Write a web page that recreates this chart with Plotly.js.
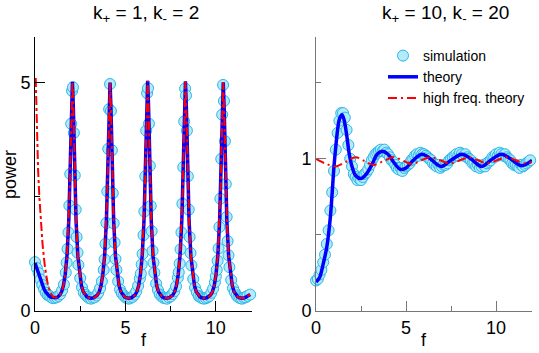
<!DOCTYPE html>
<html>
<head>
<meta charset="utf-8">
<script src="https://cdn.plot.ly/plotly-3.0.1.min.js"></script>
<style>
  html, body { margin: 0; padding: 0; background: #fff; }
  #chart { width: 539px; height: 353px; }
</style>
</head>
<body>
<div id="chart"></div>
<script>
// ---- left panel: k+ = 1, k- = 2 ----
var leftSimF = [0,0.1,0.2,0.3,0.4,0.5,0.6,0.7,0.8,0.9,1.0,1.1,1.2,1.3,1.4,1.5,1.6,1.7,
  1.75,1.8,1.85,1.9,1.95,2.0,2.05,2.1,2.15,2.2,2.25,2.3,2.35,2.4,
  2.5,2.6,2.7,2.8,2.9,3.0,3.1,3.2,3.3,3.4,3.5,3.6,3.7,3.8,
  3.85,3.9,3.95,4.0,4.05,4.1,4.15,4.2,4.25,4.3,4.35,4.4,4.45,4.5,
  4.6,4.7,4.8,4.9,5.0,5.1,5.2,5.3,5.4,5.5,5.6,5.7,5.8,
  5.85,5.9,5.95,6.0,6.05,6.1,6.15,6.2,6.25,6.3,6.35,6.4,6.45,6.5,6.55,6.6,
  6.7,6.8,6.9,7.0,7.1,7.2,7.3,7.4,7.5,7.6,7.7,7.8,7.9,
  7.95,8.0,8.05,8.1,8.15,8.2,8.25,8.3,8.35,8.4,8.45,8.5,8.55,8.6,8.65,
  8.75,8.85,8.95,9.05,9.15,9.25,9.35,9.45,9.55,9.65,9.75,9.85,9.95,
  10.0,10.05,10.1,10.15,10.2,10.25,10.3,10.35,10.4,10.45,10.5,10.55,10.6,10.65,10.7,10.75,
  10.85,10.95,11.05,11.15,11.25,11.35,11.45,11.55,11.65,11.75,11.9];
var leftSimP = [1.07,0.94,0.83,0.69,0.57,0.48,0.4,0.35,0.33,0.3,0.28,0.29,0.3,0.33,0.37,0.45,0.58,0.84,
  1.06,1.36,1.72,2.31,3.0,4.1,4.82,4.9,3.9,2.97,2.22,1.62,1.28,1.01,
  0.72,0.52,0.4,0.35,0.31,0.28,0.27,0.29,0.3,0.34,0.4,0.5,0.65,0.9,
  1.13,1.47,1.93,2.62,3.55,4.42,4.97,4.38,3.52,2.58,1.92,1.5,1.14,0.9,
  0.65,0.47,0.39,0.34,0.3,0.28,0.27,0.29,0.31,0.36,0.43,0.55,0.71,
  0.82,1.02,1.25,1.66,2.18,2.95,3.95,4.77,4.88,4.1,3.18,2.3,1.75,1.32,1.06,0.84,
  0.6,0.46,0.36,0.32,0.29,0.28,0.27,0.3,0.32,0.37,0.43,0.54,0.73,
  0.85,1.04,1.35,1.72,2.35,3.15,4.15,4.87,4.72,3.95,2.95,2.22,1.62,1.27,1.0,
  0.7,0.51,0.41,0.33,0.3,0.28,0.27,0.28,0.3,0.33,0.4,0.49,0.63,
  0.76,0.9,1.1,1.37,1.84,2.46,3.33,4.3,4.95,4.6,3.72,2.78,2.06,1.53,1.22,0.96,
  0.68,0.5,0.41,0.34,0.3,0.28,0.27,0.29,0.3,0.33,0.36];

var leftTheoryF = [0,0.1,0.2,0.3,0.4,0.5,0.6,0.7,0.8,0.9,1.0,
  1.17,1.27,1.37,1.47,1.57,1.67,1.77,1.87,1.92,1.97,2.02,2.07,2.12,2.17,2.22,2.27,2.37,2.47,2.57,2.67,2.77,2.87,2.97,
  3.11,
  3.25,3.35,3.45,3.55,3.65,3.75,3.85,3.95,4.0,4.05,4.1,4.15,4.2,4.25,4.3,4.35,4.45,4.55,4.65,4.75,4.85,4.95,5.05,
  5.19,
  5.33,5.43,5.53,5.63,5.73,5.83,5.93,6.03,6.08,6.13,6.18,6.23,6.28,6.33,6.38,6.43,6.53,6.63,6.73,6.83,6.93,7.03,7.13,
  7.27,
  7.42,7.52,7.62,7.72,7.82,7.92,8.02,8.12,8.17,8.22,8.27,8.32,8.37,8.42,8.47,8.52,8.62,8.72,8.82,8.92,9.02,9.12,9.22,
  9.36,
  9.51,9.61,9.71,9.81,9.91,10.01,10.11,10.21,10.26,10.31,10.36,10.41,10.46,10.51,10.56,10.61,10.71,10.81,10.91,11.01,11.11,11.21,11.31,
  11.45,11.6,11.75,11.9];
var leftTheoryP = [1.05,0.93,0.8,0.68,0.57,0.48,0.41,0.36,0.32,0.3,0.29,
  0.29,0.31,0.35,0.42,0.55,0.8,1.22,2.0,2.65,3.52,4.47,5.02,4.46,3.5,2.62,1.98,1.2,0.79,0.55,0.42,0.35,0.31,0.29,
  0.28,
  0.29,0.31,0.35,0.42,0.55,0.8,1.21,1.99,2.64,3.5,4.45,5.0,4.45,3.5,2.63,1.98,1.2,0.79,0.55,0.42,0.35,0.31,0.29,
  0.28,
  0.29,0.31,0.35,0.42,0.55,0.8,1.22,2.0,2.66,3.53,4.48,5.04,4.47,3.51,2.62,1.97,1.19,0.79,0.55,0.42,0.35,0.31,0.29,
  0.28,
  0.29,0.31,0.35,0.42,0.55,0.8,1.22,2.0,2.65,3.52,4.46,5.03,4.46,3.5,2.62,1.98,1.2,0.79,0.55,0.42,0.35,0.31,0.29,
  0.28,
  0.29,0.31,0.35,0.42,0.55,0.8,1.21,1.99,2.64,3.51,4.45,5.01,4.45,3.5,2.61,1.97,1.2,0.79,0.55,0.42,0.35,0.31,0.29,
  0.28,0.29,0.32,0.36];

// high frequency theory: diverges near f = 0, then follows the full theory
var leftHighHeadF = [0.04,0.1,0.17,0.24,0.33,0.42,0.55,0.7,0.85,1.0];
var leftHighHeadP = [5.1,4.0,3.1,2.5,1.9,1.45,0.96,0.6,0.4,0.31];

// ---- right panel: k+ = 10, k- = 20 ----
var rightSimF = [];
var rightSimP = [0.2,0.21,0.24,0.27,0.32,0.37,0.44,0.53,0.66,0.78,
  0.92,1.06,1.17,1.25,1.3,1.3,1.27,1.19,1.09,1.0,
  0.95,0.9,0.88,0.86,0.87,0.86,0.88,0.9,0.91,0.93,
  0.96,0.99,1.01,1.03,1.04,1.05,1.06,1.05,1.06,1.04,
  1.03,1.01,0.99,0.98,0.96,0.94,0.93,0.94,0.92,0.94,
  0.95,0.96,0.97,0.99,1.0,1.02,1.03,1.02,1.04,1.03,
  1.03,1.02,1.01,1.0,0.99,0.97,0.96,0.95,0.96,0.94,
  0.95,0.96,0.96,0.97,0.99,1.0,1.01,1.02,1.03,1.02,
  1.04,1.03,1.02,1.03,1.01,1.0,0.99,0.97,0.97,0.95,
  0.96,0.94,0.95,0.96,0.95,0.97,0.98,0.99,1.01,1.01,
  1.03,1.02,1.04,1.03,1.02,1.03,1.01,1.0,0.99,0.97,
  0.96,0.96,0.95,0.94,0.96,0.95,0.96,0.97,0.98,0.99];
for (var i = 0; i < rightSimP.length; i++) rightSimF.push(+(i * 0.1).toFixed(1));

var rightTheoryF = [0,0.2,0.4,0.6,0.8,0.9,1.0,1.1,1.2,1.3,1.44,1.55,1.7,1.85,2.0,2.2,2.5,2.8,3.1,3.4,3.67,
  4.0,4.3,4.7,5.0,5.4,5.9,6.4,6.95,7.5,8.1,8.6,9.2,9.7,10.3,10.8,11.4,12];
var rightTheoryP = [0.19,0.22,0.31,0.42,0.62,0.78,0.95,1.08,1.19,1.26,1.29,1.26,1.16,1.03,0.95,0.89,0.87,0.9,0.96,1.03,1.05,
  1.03,0.98,0.93,0.94,0.99,1.03,0.995,0.95,0.99,1.03,1.0,0.95,0.99,1.03,1.0,0.955,0.99];

var rightHighF = [0,0.5,1.1,1.65,2.2,2.7,3.2,3.75,4.3,4.8,5.3,5.85,6.4,6.9,7.45,8.0,8.5,9.0,9.5,10.05,10.6,11.1,11.6,12];
var rightHighP = [1.0,0.97,0.95,0.98,1.01,0.985,0.96,0.985,1.01,0.99,0.965,0.99,1.01,0.99,0.97,0.99,1.01,0.99,0.97,0.99,1.01,0.99,0.97,0.98];

var W = 539, H = 353;
function px(x) { return x / W; }
function py(y) { return 1 - y / H; }

var simMarker = { symbol: "circle", size: 11, color: "#b2ecfa", line: { color: "#2db6e6", width: 1 } };
var theoryLine = { color: "#0000ff", width: 3.5 };

var data = [
  { x: leftSimF, y: leftSimP, type: "scatter", mode: "markers", marker: simMarker,
    cliponaxis: false, name: "simulation", showlegend: false, xaxis: "x", yaxis: "y" },
  { x: leftTheoryF, y: leftTheoryP, type: "scatter", mode: "lines", line: theoryLine,
    name: "theory", showlegend: false, xaxis: "x", yaxis: "y" },
  { x: leftHighHeadF.concat(leftTheoryF.slice(11)), y: leftHighHeadP.concat(leftTheoryP.slice(11)),
    type: "scatter", mode: "lines", line: { color: "#ff0000", width: 2, dash: "9px,3px,3px,3px" },
    name: "high freq. theory", showlegend: false, xaxis: "x", yaxis: "y" },

  { x: rightSimF, y: rightSimP, type: "scatter", mode: "markers", marker: simMarker,
    cliponaxis: false, name: "simulation", xaxis: "x2", yaxis: "y2" },
  { x: rightTheoryF, y: rightTheoryP, type: "scatter", mode: "lines",
    line: { color: "#0000ff", width: 3.5, shape: "spline", smoothing: 1 },
    name: "theory", xaxis: "x2", yaxis: "y2" },
  { x: rightHighF, y: rightHighP, type: "scatter", mode: "lines",
    line: { color: "#ff0000", width: 2, dash: "9px,4px,2px,4px", shape: "spline", smoothing: 1 },
    name: "high freq. theory", xaxis: "x2", yaxis: "y2" }
];

function axis(extra, col) {
  var a = {
    showgrid: false, zeroline: false, showline: true, linecolor: col, linewidth: 1,
    ticks: "inside", ticklen: 10, tickwidth: 1, tickcolor: col,
    tickfont: { size: 18, color: "#000" },
    fixedrange: true
  };
  for (var k in extra) a[k] = extra[k];
  return a;
}

var layout = {
  width: W, height: H,
  margin: { l: 0, r: 0, t: 0, b: 0 },
  paper_bgcolor: "#fff", plot_bgcolor: "#fff",
  font: { family: "Liberation Sans, Arial, sans-serif", color: "#000" },
  showlegend: true,
  legend: { x: px(383), y: py(40), xanchor: "left", yanchor: "top",
            font: { size: 14 }, bgcolor: "rgba(0,0,0,0)", borderwidth: 0 },
  xaxis: axis({ domain: [px(35), px(252)], range: [0, 12], tickvals: [0, 5, 10], minor: { dtick: 2.5, ticks: "inside", ticklen: 5, tickcolor: "#000" }, anchor: "y" }, "#000"),
  yaxis: axis({ domain: [py(311), py(37)], range: [0, 6], tickvals: [0, 5], minor: { dtick: 2.5, ticks: "inside", ticklen: 5, tickcolor: "#000" }, anchor: "x" }, "#000"),
  xaxis2: axis({ domain: [px(316), px(532)], range: [0, 12], tickvals: [0, 5, 10], minor: { dtick: 2.5, ticks: "inside", ticklen: 5, tickcolor: "#777" }, anchor: "y2" }, "#777"),
  yaxis2: axis({ domain: [py(311), py(37)], range: [0, 1.8], tickvals: [0, 1], minor: { dtick: 0.5, ticks: "inside", ticklen: 5, tickcolor: "#777" }, anchor: "x2" }, "#777"),
  annotations: [
    { text: "k<sub>+</sub> = 1, k<sub>-</sub> = 2", x: px(146), y: py(14), xref: "paper", yref: "paper",
      xanchor: "center", yanchor: "middle", showarrow: false, font: { size: 19 } },
    { text: "k<sub>+</sub> = 10, k<sub>-</sub> = 20", x: px(445), y: py(14), xref: "paper", yref: "paper",
      xanchor: "center", yanchor: "middle", showarrow: false, font: { size: 19 } },
    { text: "power", x: px(10), y: py(175), xref: "paper", yref: "paper", textangle: -90,
      xanchor: "center", yanchor: "middle", showarrow: false, font: { size: 18 } },
    { text: "f", x: px(143.5), y: py(340), xref: "paper", yref: "paper",
      xanchor: "center", yanchor: "middle", showarrow: false, font: { size: 18 } },
    { text: "f", x: px(424), y: py(340), xref: "paper", yref: "paper",
      xanchor: "center", yanchor: "middle", showarrow: false, font: { size: 18 } }
  ]
};

Plotly.newPlot("chart", data, layout, { staticPlot: true, displayModeBar: false });
</script>
</body>
</html>
